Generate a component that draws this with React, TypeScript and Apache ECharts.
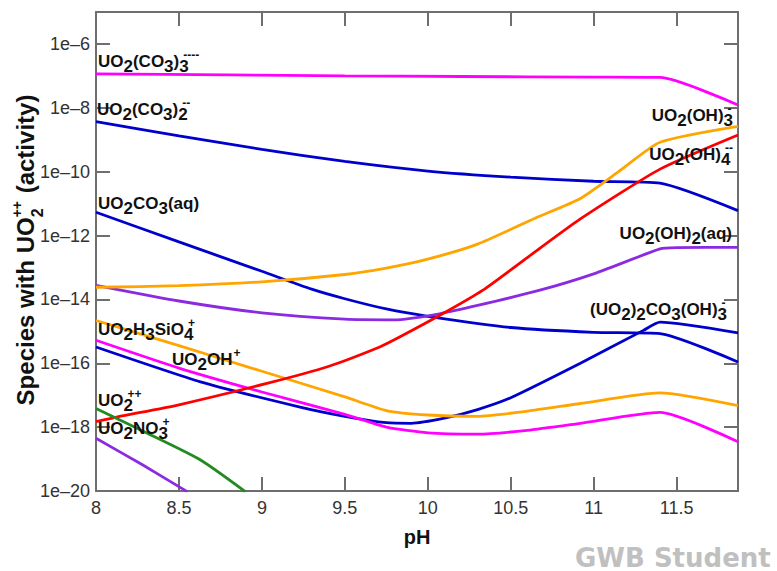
import React, { useEffect, useRef } from 'react';
import * as echarts from 'echarts';

const FONT = 'Arial, "Liberation Sans", Helvetica, sans-serif';

// axis settings (log10 of activity on y)
const X_MIN = 8;
const X_MAX = 11.87;
const X_STEP = 0.5;
const Y_MIN = -20;
const Y_MAX = -5;
const Y_STEP = 2;

// ---- series data: pH and log10(activity) ----
const pH_UO2CO3_3 = [8, 8.8, 9.5, 10.2, 11, 11.4, 11.87];
const log_UO2CO3_3 = [-6.94, -6.97, -7.0, -7.02, -7.04, -7.05, -7.91];

const pH_UO2CO3_2 = [8, 8.5, 9, 9.5, 10, 10.5, 11, 11.4, 11.87];
const log_UO2CO3_2 = [-8.43, -8.88, -9.3, -9.68, -9.98, -10.17, -10.3, -10.36, -11.22];

const pH_UO2CO3aq = [8, 8.5, 9, 9.3, 9.5, 9.75, 10, 10.5, 11, 11.4, 11.87];
const log_UO2CO3aq = [-11.27, -12.2, -13.12, -13.68, -13.98, -14.3, -14.53, -14.88, -15.03, -15.07, -15.96];

const pH_UO22CO3OH3 = [8, 8.63, 9.23, 9.5, 9.75, 9.9, 10.1, 10.3, 10.5, 10.92, 11.3, 11.4, 11.87];
const log_UO22CO3OH3 = [-15.49, -16.58, -17.37, -17.66, -17.86, -17.88, -17.72, -17.45, -17.08, -16.0, -14.97, -14.71, -15.05];

const pH_UO2OH3 = [8, 8.5, 9, 9.5, 9.75, 10, 10.3, 10.65, 10.92, 11.15, 11.4, 11.87];
const log_UO2OH3 = [-13.62, -13.57, -13.45, -13.22, -13.02, -12.74, -12.27, -11.45, -10.84, -10.0, -9.08, -8.58];

const pH_UO2OH4 = [8, 8.13, 8.5, 9.03, 9.4, 9.71, 9.83, 10.1, 10.33, 10.6, 10.92, 11.4, 11.87];
const log_UO2OH4 = [-17.83, -17.68, -17.3, -16.63, -16.1, -15.49, -15.18, -14.42, -13.72, -12.69, -11.48, -9.92, -8.85];

const pH_UO2OH2aq = [8, 8.5, 9, 9.5, 9.8, 10.07, 10.3, 10.67, 11, 11.4, 11.5, 11.87];
const log_UO2OH2aq = [-13.56, -14.05, -14.42, -14.62, -14.64, -14.45, -14.19, -13.72, -13.2, -12.42, -12.38, -12.37];

const pH_UO2OH = [8, 8.5, 9, 9.5, 9.75, 10, 10.3, 10.6, 10.92, 11.4, 11.87];
const log_UO2OH = [-14.66, -15.45, -16.25, -17.05, -17.48, -17.62, -17.66, -17.5, -17.26, -16.93, -17.33];

const pH_UO2H3SiO4 = [8, 8.5, 9, 9.5, 9.75, 10, 10.3, 10.6, 10.92, 11.4, 11.87];
const log_UO2H3SiO4 = [-15.28, -16.15, -16.9, -17.6, -18.0, -18.18, -18.22, -18.1, -17.88, -17.54, -18.46];

const pH_UO2 = [8, 8.3, 8.63, 8.9];
const log_UO2 = [-17.42, -18.17, -19.03, -20.02];

const pH_UO2NO3 = [8, 8.28, 8.55];
const log_UO2NO3 = [-18.35, -19.18, -20.02];

const seriesDefs = [
  { name: 'UO2(CO3)3----', color: '#ff00ff', x: pH_UO2CO3_3, y: log_UO2CO3_3 },
  { name: 'UO2(CO3)2--', color: '#0000cd', x: pH_UO2CO3_2, y: log_UO2CO3_2 },
  { name: 'UO2CO3(aq)', color: '#0000cd', x: pH_UO2CO3aq, y: log_UO2CO3aq },
  { name: '(UO2)2CO3(OH)3-', color: '#0000cd', x: pH_UO22CO3OH3, y: log_UO22CO3OH3 },
  { name: 'UO2(OH)2(aq)', color: '#8a2be2', x: pH_UO2OH2aq, y: log_UO2OH2aq },
  { name: 'UO2(OH)3-', color: '#ffa500', x: pH_UO2OH3, y: log_UO2OH3 },
  { name: 'UO2OH+', color: '#ffa500', x: pH_UO2OH, y: log_UO2OH },
  { name: 'UO2H3SiO4+', color: '#ff00ff', x: pH_UO2H3SiO4, y: log_UO2H3SiO4 },
  { name: 'UO2(OH)4--', color: '#ff0000', x: pH_UO2OH4, y: log_UO2OH4 },
  { name: 'UO2++', color: '#228b22', x: pH_UO2, y: log_UO2 },
  { name: 'UO2NO3+', color: '#8a2be2', x: pH_UO2NO3, y: log_UO2NO3 },
];

// label parts: n = normal, b = subscript, p = superscript, bp = stacked sub + sup
type Part = string[];
const labels: { x: number; base: number; align: 'left' | 'right'; parts: Part[] }[] = [
  { x: 98, base: 67, align: 'left', parts: [['n', 'UO'], ['b', '2'], ['n', '(CO'], ['b', '3'], ['n', ')'], ['bp', '3', '----']] },
  { x: 97, base: 115, align: 'left', parts: [['n', 'UO'], ['b', '2'], ['n', '(CO'], ['b', '3'], ['n', ')'], ['bp', '2', '--']] },
  { x: 98, base: 209, align: 'left', parts: [['n', 'UO'], ['b', '2'], ['n', 'CO'], ['b', '3'], ['n', '(aq)']] },
  { x: 98, base: 335, align: 'left', parts: [['n', 'UO'], ['b', '2'], ['n', 'H'], ['b', '3'], ['n', 'SiO'], ['bp', '4', '+']] },
  { x: 172, base: 365, align: 'left', parts: [['n', 'UO'], ['b', '2'], ['n', 'OH'], ['p', '+']] },
  { x: 98, base: 406, align: 'left', parts: [['n', 'UO'], ['bp', '2', '++']] },
  { x: 98, base: 434, align: 'left', parts: [['n', 'UO'], ['b', '2'], ['n', 'NO'], ['bp', '3', '+']] },
  { x: 733, base: 121, align: 'right', parts: [['n', 'UO'], ['b', '2'], ['n', '(OH)'], ['bp', '3', '-']] },
  { x: 733, base: 160, align: 'right', parts: [['n', 'UO'], ['b', '2'], ['n', '(OH)'], ['bp', '4', '--']] },
  { x: 732, base: 239, align: 'right', parts: [['n', 'UO'], ['b', '2'], ['n', '(OH)'], ['b', '2'], ['n', '(aq)']] },
  { x: 727, base: 315, align: 'right', parts: [['n', '(UO'], ['b', '2'], ['n', ')'], ['b', '2'], ['n', 'CO'], ['b', '3'], ['n', '(OH)'], ['bp', '3', '-']] },
];

let measureCtx: CanvasRenderingContext2D | null = null;
function measure(text: string, font: string): number {
  if (!measureCtx) measureCtx = document.createElement('canvas').getContext('2d');
  if (!measureCtx) return text.length * 9;
  measureCtx.font = font;
  return measureCtx.measureText(text).width;
}

function txt(x: number, y: number, text: string, font: string, fill: string) {
  return {
    type: 'text',
    x,
    y,
    silent: true,
    z: 100,
    style: { text, font, fill, align: 'left', verticalAlign: 'middle' },
  };
}

function buildLabel(l: { x: number; base: number; align: 'left' | 'right'; parts: Part[] }) {
  const fs = 17;
  const sfs = 12;
  const mainFont = `bold ${fs}px ${FONT}`;
  const supFont = `bold ${sfs}px ${FONT}`;
  const supOff = 4;
  const widths = l.parts.map((p) => {
    if (p[0] === 'n' || p[0] === 'b') return measure(p[1], mainFont);
    if (p[0] === 'p') return measure(p[1], supFont) + 1;
    return Math.max(measure(p[1], mainFont), supOff + measure(p[2], supFont));
  });
  const total = widths.reduce((a, b) => a + b, 0);
  let cx = l.align === 'right' ? l.x - total : l.x;
  const cy = l.base - 0.3465 * fs;
  const col = '#111';
  const els: any[] = [];
  l.parts.forEach((p, i) => {
    if (p[0] === 'n') els.push(txt(cx, cy, p[1], mainFont, col));
    else if (p[0] === 'b') els.push(txt(cx, cy + 5, p[1], mainFont, col));
    else if (p[0] === 'p') els.push(txt(cx + 1, cy - 6, p[1], supFont, col));
    else {
      els.push(txt(cx, cy + 5, p[1], mainFont, col));
      els.push(txt(cx + supOff, cy - 6, p[2], supFont, col));
    }
    cx += widths[i];
  });
  return els;
}

function buildYTitle() {
  const mainFont = `bold 24px ${FONT}`;
  const subFont = `bold 16px ${FONT}`;
  const supFont = `bold 14px ${FONT}`;
  const a = 'Species with UO';
  const b = ' (activity)';
  const wa = measure(a, mainFont);
  const wsub = measure('2', subFont);
  const wsup = measure('++', supFont);
  const ws = Math.max(wsub, wsup) + 1;
  const wb = measure(b, mainFont);
  const total = wa + ws + wb;
  const x0 = -total / 2;
  const col = '#111';
  return {
    type: 'group',
    x: 25,
    y: 250,
    rotation: Math.PI / 2,
    silent: true,
    children: [
      txt(x0, 0, a, mainFont, col),
      txt(x0 + wa, 12, '2', subFont, col),
      txt(x0 + wa, -8, '++', supFont, col),
      txt(x0 + wa + ws, 0, b, mainFont, col),
    ],
  };
}

const AXIS_COLOR = '#6e6e6e';

export default function App() {
  const ref = useRef<HTMLDivElement>(null);
  useEffect(() => {
    if (!ref.current) return;
    const chart = echarts.init(ref.current, null, { renderer: 'svg' });
    const axisCommon = {
      type: 'value',
      axisLine: { show: true, onZero: false, lineStyle: { color: AXIS_COLOR, width: 2 } },
      axisTick: { show: true, inside: true, length: 14, lineStyle: { color: AXIS_COLOR, width: 2 } },
      splitLine: { show: false },
      minorTick: { show: false },
    };
    const graphics: any[] = [];
    labels.forEach((l) => graphics.push(...buildLabel(l)));
    graphics.push(buildYTitle());
    graphics.push({
      type: 'text',
      x: 575,
      y: 558,
      silent: true,
      style: {
        text: 'GWB Student',
        font: 'bold 26px "DejaVu Sans", Arial, sans-serif',
        fill: '#c0c0c0',
        align: 'left',
        verticalAlign: 'middle',
      },
    });
    const option: any = {
      animation: false,
      backgroundColor: '#ffffff',
      grid: { left: 96, right: 39, top: 12, bottom: 80, containLabel: false },
      xAxis: [
        {
          ...axisCommon,
          min: X_MIN,
          max: X_MAX,
          interval: X_STEP,
          position: 'bottom',
          axisLabel: { show: true, showMaxLabel: false, color: '#333', fontSize: 18, fontFamily: FONT, margin: 8 },
          name: 'pH',
          nameLocation: 'middle',
          nameGap: 36,
          nameTextStyle: { fontSize: 20, fontWeight: 'bold', color: '#111', fontFamily: FONT },
        },
        {
          ...axisCommon,
          min: X_MIN,
          max: X_MAX,
          interval: X_STEP,
          position: 'top',
          axisLabel: { show: false },
        },
      ],
      yAxis: [
        {
          ...axisCommon,
          min: Y_MIN,
          max: Y_MAX,
          interval: Y_STEP,
          position: 'left',
          axisLabel: {
            show: true,
            showMaxLabel: false,
            color: '#333',
            fontSize: 18,
            fontFamily: FONT,
            margin: 6,
            formatter: (v: number) => '1e\u2013' + String(-v),
          },
        },
        {
          ...axisCommon,
          min: Y_MIN,
          max: Y_MAX,
          interval: Y_STEP,
          position: 'right',
          axisLabel: { show: false },
        },
      ],
      series: seriesDefs.map((s) => ({
        name: s.name,
        type: 'line',
        xAxisIndex: 0,
        yAxisIndex: 0,
        data: s.x.map((p, i) => [p, s.y[i]]),
        showSymbol: false,
        symbol: 'none',
        smooth: 0.2,
        clip: true,
        silent: true,
        lineStyle: { color: s.color, width: 2.8 },
        itemStyle: { color: s.color },
      })),
      graphic: graphics,
    };
    chart.setOption(option);
    return () => chart.dispose();
  }, []);
  return <div ref={ref} style={{ position: 'fixed', left: 0, top: 0, width: 777, height: 571 }} />;
}
